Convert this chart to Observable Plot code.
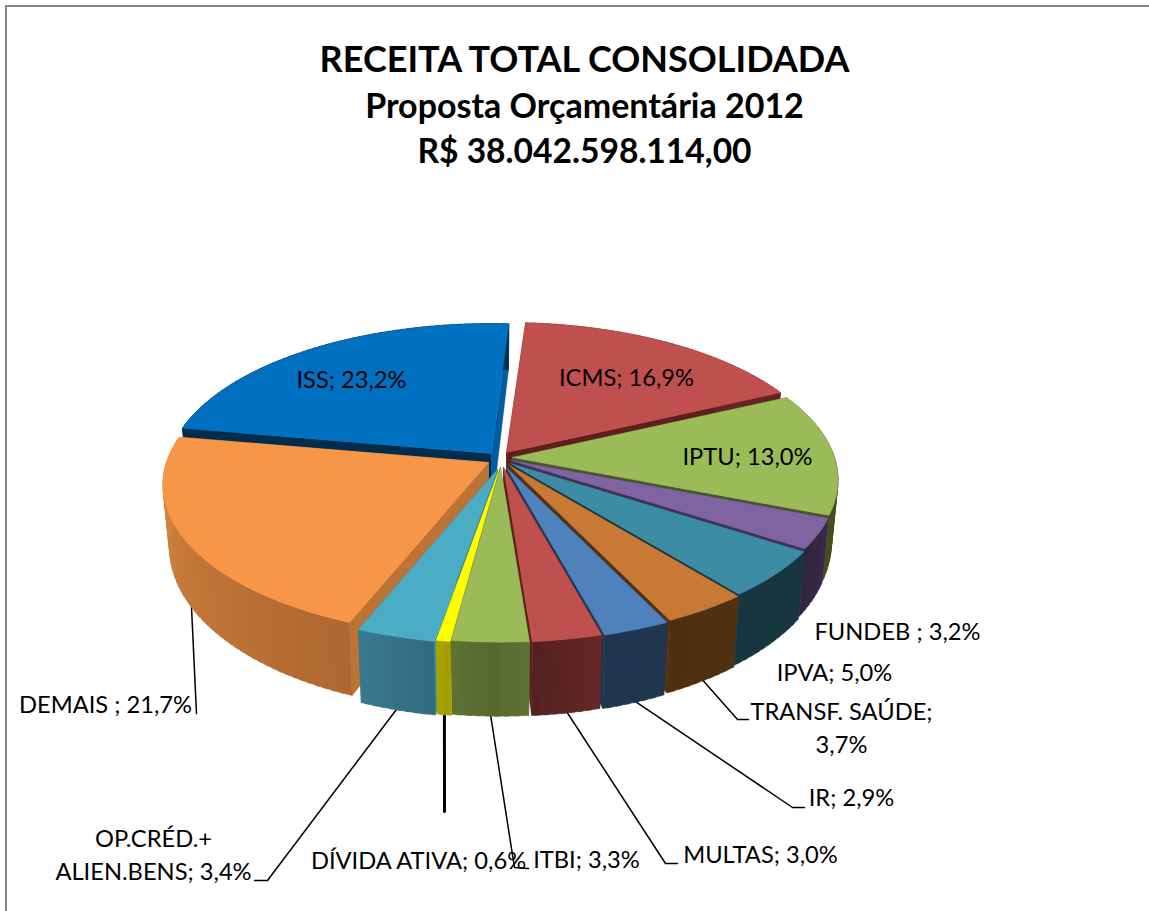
<!DOCTYPE html>
<html lang="pt">
<head>
<meta charset="utf-8">
<script src="https://cdn.jsdelivr.net/npm/d3@7"></script>
<script src="https://cdn.jsdelivr.net/npm/@observablehq/plot@0.6"></script>
<style>
html,body{margin:0;padding:0;background:#fff;}
#frame{position:relative;width:1149px;height:911px;overflow:hidden;font-family:Lato,"Open Sans",sans-serif;}
#edge{position:absolute;left:5px;top:5px;width:1144px;height:906px;box-sizing:border-box;border-left:2px solid #868686;border-top:2px solid #868686;}
#head{position:absolute;left:0;top:0;width:1169px;text-align:center;font-weight:700;color:#000;}
#head div{position:absolute;left:0;width:100%;white-space:nowrap;}
#chart{position:absolute;left:0;top:0;}
</style>
</head>
<body>
<div id="frame">
  <div id="edge"></div>
  <div id="head">
    <div style="top:36px;font-size:36px;line-height:44px">RECEITA TOTAL CONSOLIDADA</div>
    <div style="top:85px;font-size:34px;line-height:40px">Proposta Orçamentária 2012</div>
    <div style="top:130px;font-size:33.6px;line-height:40px">R$ 38.042.598.114,00</div>
  </div>
  <div id="chart"></div>
</div>
<script>
const names = ["ICMS","IPTU","FUNDEB ","IPVA","TRANSF. SAÚDE","IR","MULTAS","ITBI","DÍVIDA ATIVA","OP.CRÉD.+ ALIEN.BENS","DEMAIS ","ISS"];
const shares = [16.9,13.0,3.2,5.0,3.7,2.9,3.0,3.3,0.6,3.4,21.7,23.2];
const topColors = ["#C0504D","#9BBB59","#8064A2","#3C8CA3","#C77935","#4F81BD","#C0504D","#9BBB59","#FFFF00","#4BACC6","#F79646","#0070C0"];
const wallColorsA = ["#632523","#4F6228","#3A2A4C","#17363F","#513013","#20364F","#642828","#5E7236","#A8A400","#39798F","#D98A44","#002D4E"];
const wallColorsB = ["#632523","#404F20","#32243F","#17363F","#4F2F12","#1F3550","#54201F","#4F6028","#A09C00","#316B80","#AE672F","#002D4E"];
const cutStart = ["#632523","#4F6228","#3A2A4C","#17363F","#513013","#20364F","#642828","#7E9A46","#E4E400","#3F93AB","#BC7335","#002D4E"];
const cutEnd = ["#5E1F1D","#46562A","#3F3151","#17363F","#513013","#1F3550","#5E1F1D","#4F6228","#A8A400","#39798F","#BC7335","#005C9E"];

// Pie apex of each slice (explosion) and perspective of the disc
const apexX = [506,512,511,510,509,506,503,500,499,497,488,491];
const apexY = [452,457,460,463,465,467,467,467,468,469,462,453];
const startAngle = 3.9, R = 322, squash = 149/322, persp = 0.147, depth = 60, depthFront = 14, taper = 0.98;

// Layers painted back to front
const paintOrder = [11,0,1,2,3,4,5,6,10,9,8,7];

// Leader lines: slice index, elbow and end, line weight
const leaderSlice = [10,9,8,7,6,5,4];
const leaderElbowX = [196,267,444,514,665,792,737];
const leaderElbowY = [713,880,811,867,863,807,719];
const leaderEndX = [196,254,444,528,677,804,748];
const leaderEndY = [713,880,811,868,863,807,719];
const leaderWeight = [1.5,1.5,3,1.5,1.5,1.5,1.5];

const labelText = ["ICMS; 16,9%","IPTU; 13,0%","FUNDEB ; 3,2%","IPVA; 5,0%","TRANSF. SAÚDE;\n3,7%","IR; 2,9%","MULTAS; 3,0%","ITBI; 3,3%","DÍVIDA ATIVA; 0,6%","OP.CRÉD.+\nALIEN.BENS; 3,4%","DEMAIS ; 21,7%","ISS; 23,2%"];
const labelX = [626,747,897,834,841,851,760,586,418,153,105,351];
const labelY = [375,454,629,670,725,795,852,857,858,852,702,377];

const rad = d => d * Math.PI / 180;
function pt(i, deg, r, bottom) {
  const t = rad(deg), u = r / R;
  const s = 1 / (1 + persp * u * Math.cos(t));
  const a = r * Math.sin(t) * s, b = r * Math.cos(t) * s * squash;
  if (!bottom) return [apexX[i] + a, apexY[i] - b];
  return [apexX[i] + a * taper, apexY[i] - b + depth - depthFront * u * Math.cos(t)];
}
let acc = 0;
const angles = shares.map(v => { const a0 = startAngle + acc * 3.6; acc += v; return [a0, startAngle + acc * 3.6]; });

const polys = [];
let pid = 0;
function poly(points, fill) {
  const id = pid++;
  for (const [x, y] of [...points, points[0]]) polys.push({x, y, id, fill});
}
for (const i of paintOrder) {
  const [a0, a1] = angles[i];
  const n = Math.max(2, Math.ceil((a1 - a0) / 1.5));
  const arc = d3.range(n + 1).map(k => a0 + (a1 - a0) * k / n);
  // cut faces
  poly([pt(i,a0,0,false), pt(i,a0,R,false), pt(i,a0,R,true), pt(i,a0,0,true)], cutStart[i]);
  poly([pt(i,a1,0,false), pt(i,a1,R,false), pt(i,a1,R,true), pt(i,a1,0,true)], cutEnd[i]);
  // outer wall, shaded along the arc; each band runs under the next so no seam shows
  const ramp = d3.interpolateRgb(wallColorsA[i], wallColorsB[i]);
  for (let k = 0; k < n; k++) {
    const mix = arc[k] > 180 ? 1 - (k + .5) / n : (k + .5) / n;
    const far = Math.min(a1, arc[k+1] + 0.8);
    poly([pt(i,arc[k],R,false), pt(i,far,R,false), pt(i,far,R,true), pt(i,arc[k],R,true)], ramp(mix));
  }
  // top face
  poly([pt(i,a0,0,false), ...arc.map(d => pt(i,d,R,false))], topColors[i]);
}

const leaders = [];
leaderSlice.forEach((i, j) => {
  const mid = (angles[i][0] + angles[i][1]) / 2;
  const [x0, y0] = pt(i, mid, R, true);
  leaders.push({x:x0, y:y0-2, id:j, w:leaderWeight[j]},
               {x:leaderElbowX[j], y:leaderElbowY[j], id:j, w:leaderWeight[j]},
               {x:leaderEndX[j], y:leaderEndY[j], id:j, w:leaderWeight[j]});
});
const labels = labelText.map((t, i) => ({t, x:labelX[i], y:labelY[i]}));

const leaderMarks = d3.group(leaders, d => d.w);
const svg = Plot.plot({
  width: 1149, height: 911,
  margin: 0,
  x: {domain:[0,1149], range:[0,1149], axis:null},
  y: {domain:[0,911], range:[0,911], axis:null},
  style: {background:"transparent", fontFamily:"Lato, sans-serif"},
  marks: [
    ...[...leaderMarks].map(([w, rows]) =>
      Plot.line(rows, {x:"x", y:"y", z:"id", stroke:"#000", strokeWidth:w, curve:"linear"})),
    Plot.line(polys, {x:"x", y:"y", z:"id", fill:"fill", stroke:"fill", strokeWidth:0.5, curve:"linear"}),
    Plot.text(labels, {x:"x", y:"y", text:"t", fontSize:23.7, lineHeight:1.41, fill:"#000", textAnchor:"middle"})
  ]
});
document.getElementById("chart").appendChild(svg);
</script>
</body>
</html>
